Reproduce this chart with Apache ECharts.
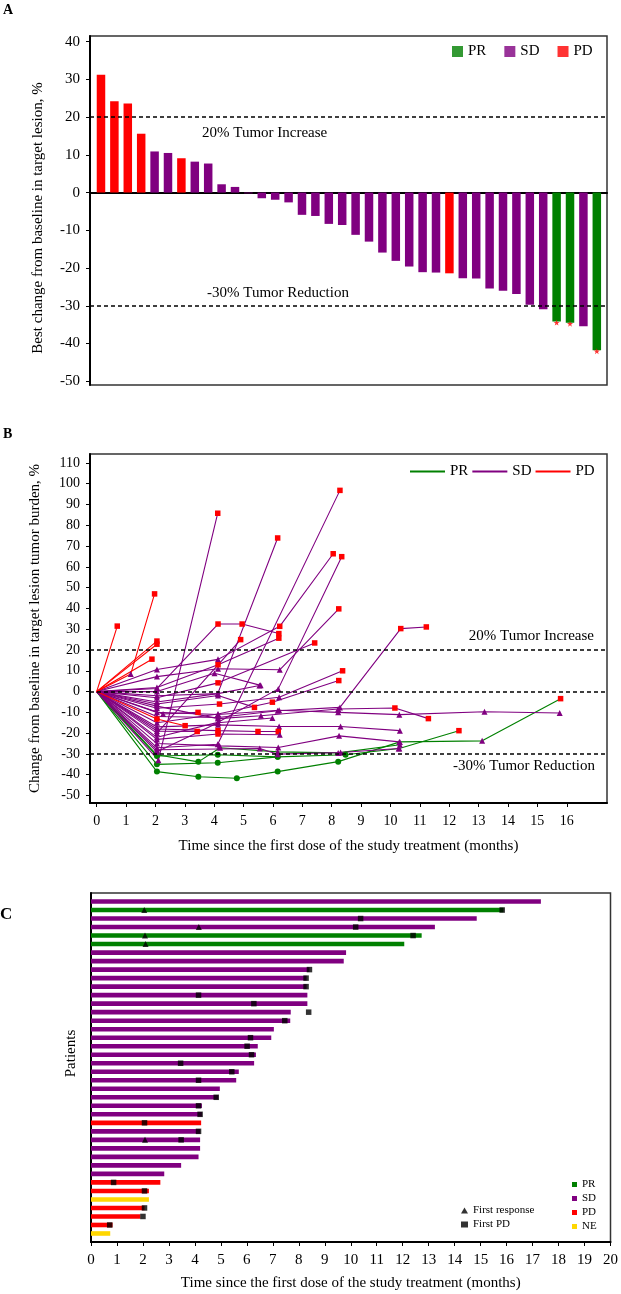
<!DOCTYPE html>
<html>
<head>
<meta charset="utf-8">
<script src="https://cdn.jsdelivr.net/npm/echarts@6/dist/echarts.min.js"></script>
<style>
  html, body { margin: 0; background: #fff; }
  #chart { width: 621px; height: 1294px; }
</style>
</head>
<body>
<div id="chart"></div>
<script>
// ---- panel A: best change per patient (waterfall)
const aValues = [31.2, 24.2, 23.6, 15.6, 10.9, 10.5, 9.1, 8.2, 7.7, 2.2, 1.5, -0.2, -1.5, -1.9, -2.6,
  -5.9, -6.2, -8.3, -8.6, -11.2, -13.0, -15.9, -18.1, -19.6, -21.1, -21.2, -21.4, -22.7, -22.8,
  -25.4, -26.0, -26.9, -29.7, -30.9, -34.2, -34.5, -35.4, -41.8];
const aStatus = ['PD', 'PD', 'PD', 'PD', 'SD', 'SD', 'PD', 'SD', 'SD', 'SD', 'SD', 'SD', 'SD', 'SD', 'SD',
  'SD', 'SD', 'SD', 'SD', 'SD', 'SD', 'SD', 'SD', 'SD', 'SD', 'SD', 'PD', 'SD', 'SD',
  'SD', 'SD', 'SD', 'SD', 'SD', 'PR', 'PR', 'SD', 'PR'];
const aMarked = [35, 36, 38];          // bars with the red mark at the bottom
const aTicksY = [-50, -40, -30, -20, -10, 0, 10, 20, 30, 40];

// ---- panel B: change over time, [month, change %, mark]  mark: 0 none, 1 triangle, 2 circle, 3 PD
const prPaths = [
  [[0, 0, 0], [2.05, -38.5, 2], [3.46, -41, 2], [4.77, -41.7, 2], [6.16, -38.5, 2], [8.22, -33.7, 2], [10.32, -24.2, 1], [13.12, -23.7, 1], [15.79, -3.4, 3]],
  [[0, 0, 0], [2.05, -35, 2], [4.12, -34.2, 2], [6.16, -31.4, 2], [8.47, -30.4, 2], [10.3, -27.4, 1], [12.33, -18.8, 3]],
  [[0, 0, 0], [2.05, -30.4, 2], [3.46, -33.8, 2], [4.2, -27, 1], [6.16, -29, 1], [8.22, -29.5, 1], [10.32, -25.6, 1]],
  [[0, 0, 0], [2.05, -31, 2], [4.12, -30.4, 2], [6.16, -31.4, 2]]
];
const sdPaths = [
  [[0, 0, 0], [2.1, -33, 1], [4.12, 85.8, 3]],
  [[0, 0, 0], [2.05, -5, 1], [4.12, -1, 1], [6.16, 73.9, 3]],
  [[0, 0, 0], [2.05, -27, 1], [4.12, -25.3, 1], [8.28, 96.8, 3]],
  [[0, 0, 0], [2.05, 10.6, 1], [4.13, 15.5, 1], [6.23, 31.4, 3], [8.05, 66.3, 3]],
  [[0, 0, 0], [2.05, -22, 1], [4.13, -14.8, 1], [6.18, 1.3, 1], [8.34, 64.9, 3]],
  [[0, 0, 0], [2.05, 7.2, 1], [4.13, 11, 1], [6.23, 10.5, 1], [8.24, 39.8, 3]],
  [[0, 0, 0], [2.05, 1.5, 1], [4.13, 32.5, 3], [4.95, 32.5, 3], [6.2, 27.9, 3]],
  [[0, 0, 0], [2.05, -20, 1], [4.9, 25, 3]],
  [[0, 0, 0], [2.05, 2, 1], [4.13, 12.9, 3], [6.2, 25.7, 3]],
  [[0, 0, 0], [2.05, -3, 1], [4.13, 4.2, 3], [7.42, 23.4, 3]],
  [[0, 0, 0], [2.05, -8, 1], [4.18, -6, 3], [6.21, -2.7, 1], [8.37, 10, 3]],
  [[0, 0, 0], [2.05, -15, 1], [4.13, -10.8, 1], [5.98, -5.1, 3], [8.24, 5.3, 3]],
  [[0, 0, 0], [2.05, -12, 1], [4.13, -12.5, 1], [6.16, -9.2, 1], [8.28, -7.6, 1], [10.35, 30.3, 3], [11.22, 31.1, 3]],
  [[0, 0, 0], [2.05, -10, 1], [4.13, -11, 1], [6.21, -9, 1], [8.22, -10, 1], [10.3, -11.1, 1], [13.2, -9.7, 1], [15.76, -10.3, 1]],
  [[0, 0, 0], [2.05, -7, 1], [4.13, -13, 1], [5.59, -11.6, 1], [8.22, -8.4, 1], [10.15, -7.9, 3], [11.29, -13, 3]],
  [[0, 0, 0], [2.05, -17, 1], [4.13, -16, 1], [6.21, -16.8, 1], [8.3, -16.8, 1], [10.32, -18.8, 1]],
  [[0, 0, 0], [2.05, -25, 1], [4.18, -26.1, 1], [6.18, -26.9, 1], [8.25, -21.3, 1], [10.3, -24.2, 1]],
  [[0, 0, 0], [2.26, -10.8, 1], [3.45, -10, 3]],
  [[0, 0, 0], [2.05, -19, 1], [3.42, -19.2, 3]],
  [[0, 0, 0], [2.05, -18, 1], [4.13, -18.8, 3], [5.49, -19.2, 3], [6.18, -19.2, 3]],
  [[0, 0, 0], [2.05, -23, 1], [4.13, -20.4, 3], [6.23, -20.8, 1]],
  [[0, 0, 0], [2.05, 0, 1], [4.01, 8.8, 1], [5.58, 3, 1]],
  [[0, 0, 0], [2.05, -6, 1], [4.13, -1.9, 1], [5.37, -7.6, 3]],
  [[0, 0, 0], [2.05, -28, 1], [5.55, -27.4, 1], [6.16, -30.1, 1], [8.3, -29.3, 1], [10.28, -27.4, 1]],
  [[0, 0, 0], [2.05, -29, 1], [4.13, -15, 1], [5.98, -12.7, 1]],
  [[0, 0, 0], [2.05, -2, 1], [4.13, -1, 1], [5.54, 2.9, 1]]
];
const pdPaths = [
  [[0, 0, 0], [0.7, 31.5, 3]],
  [[0, 0, 0], [1.16, 8.5, 1], [1.97, 47, 3]],
  [[0, 0, 0], [2.05, 24.3, 3]],
  [[0, 0, 0], [2.05, 22.8, 3]],
  [[0, 0, 0], [1.88, 15.6, 3]],
  [[0, 0, 0], [2.05, -13.2, 3], [3.01, -16.4, 3]]
];
const bTicksX = [0, 1, 2, 3, 4, 5, 6, 7, 8, 9, 10, 11, 12, 13, 14, 15, 16];
const bTicksY = [-50, -40, -30, -20, -10, 0, 10, 20, 30, 40, 50, 60, 70, 80, 90, 100, 110];

// ---- panel C: swimmer plot, one row per patient from the top
const cDuration = [17.32, 15.88, 14.85, 13.24, 12.73, 12.06, 9.82, 9.73, 8.41, 8.3,
  8.3, 8.33, 8.33, 7.69, 7.67, 7.04, 6.94, 6.42, 6.35, 6.28,
  5.69, 5.59, 4.96, 4.9, 4.27, 4.27, 4.24, 4.2, 4.2, 4.2,
  4.14, 3.47, 2.82, 2.67, 2.23, 2.23, 2.06, 1.9, 0.83, 0.74];
const cStatus = ['SD', 'PR', 'SD', 'SD', 'PR', 'PR', 'SD', 'SD', 'SD', 'SD',
  'SD', 'SD', 'SD', 'SD', 'SD', 'SD', 'SD', 'SD', 'SD', 'SD',
  'SD', 'SD', 'SD', 'SD', 'SD', 'SD', 'PD', 'SD', 'SD', 'SD',
  'SD', 'SD', 'SD', 'PD', 'PD', 'NE', 'PD', 'PD', 'PD', 'NE'];
const cFirstResponse = [[2.05, 2], [4.15, 4], [2.08, 5], [2.1, 6], [2.08, 29]];
const cFirstPD = [[15.83, 2], [10.38, 3], [10.19, 4], [12.4, 5], [8.41, 9], [8.28, 10], [8.28, 11],
  [4.14, 12], [6.27, 13], [8.38, 14], [7.46, 15], [6.14, 17], [6.01, 18], [6.18, 19], [3.45, 20],
  [5.42, 21], [4.14, 22], [4.82, 24], [4.14, 25], [4.2, 26], [2.06, 27], [4.14, 28], [3.47, 29],
  [0.87, 34], [2.06, 35], [2.06, 37], [2.0, 38], [0.72, 39]];

const colors = { PR: '#008000', SD: '#800080', PD: '#ff0000', NE: '#ffd700' };
const serif = '"Liberation Serif", "Times New Roman", serif';
const strip = name => name.replace(/^[ABC]:/, '');
const frame = { show: true, borderColor: '#333', borderWidth: 1.5 };
const axisStroke = { color: '#000', width: 2 };
const dashed = { type: [4, 3], color: '#000', width: 1.6 };
const star = 'path://M5,0 L6.2,3.8 L10,3.8 L7,6.2 L8.1,10 L5,7.6 L1.9,10 L3,6.2 L0,3.8 L3.8,3.8 Z';

const myChart = echarts.init(document.getElementById('chart'));

const markSymbol = ['none', 'triangle', 'circle', 'rect'];
const markColor = [null, colors.SD, colors.PR, colors.PD];
const markSize = [0, 6, 6, 5.5];
function pathSeries(path, color) {
  return {
    type: 'line', xAxisIndex: 1, yAxisIndex: 1, silent: true,
    lineStyle: { color: color, width: 1.1 },
    itemStyle: { color: color },
    data: path.map(p => ({
      value: [p[0], p[1]],
      symbol: markSymbol[p[2]],
      symbolSize: markSize[p[2]],
      itemStyle: { color: markColor[p[2]] || color }
    }))
  };
}

function renderRow(params, api) {
  const start = api.coord([0, api.value(1)]);
  const end = api.coord([api.value(0), api.value(1)]);
  return {
    type: 'rect',
    shape: { x: start[0], y: start[1] - 2.3, width: end[0] - start[0], height: 4.6 },
    style: { fill: api.visual('color') }
  };
}

const series = [];
// A
series.push({
  name: 'A:bars', type: 'bar', xAxisIndex: 0, yAxisIndex: 0, barWidth: 8.5, silent: true,
  data: aValues.map((v, i) => ({ value: [i + 1, v], itemStyle: { color: colors[aStatus[i]] } })),
  markLine: {
    silent: true, symbol: ['none', 'none'], label: { show: false }, lineStyle: dashed,
    data: [{ yAxis: 20 }, { yAxis: -30 }]
  }
});
series.push({
  name: 'A:marks', type: 'scatter', xAxisIndex: 0, yAxisIndex: 0, symbol: star, symbolSize: 6,
  symbolOffset: [0, 1], itemStyle: { color: colors.PD }, silent: true,
  data: aMarked.map(i => [i, aValues[i - 1]])
});
['PR', 'SD', 'PD'].forEach(s => series.push({
  name: 'A:' + s, type: 'scatter', xAxisIndex: 0, yAxisIndex: 0, data: [], itemStyle: { color: colors[s] }
}));

// B
['PR', 'SD', 'PD'].forEach(s => series.push({
  name: 'B:' + s, type: 'line', xAxisIndex: 1, yAxisIndex: 1, data: [],
  itemStyle: { color: colors[s] }, lineStyle: { color: colors[s] }
}));
series.push({
  name: 'B:ref', type: 'line', xAxisIndex: 1, yAxisIndex: 1, data: [],
  markLine: {
    silent: true, symbol: ['none', 'none'], label: { show: false }, lineStyle: dashed,
    data: [{ yAxis: 20 }, { yAxis: 0 }, { yAxis: -30 }]
  }
});
prPaths.forEach(p => series.push(pathSeries(p, colors.PR)));
sdPaths.forEach(p => series.push(pathSeries(p, colors.SD)));
pdPaths.forEach(p => series.push(pathSeries(p, colors.PD)));

// C
['PR', 'SD', 'PD', 'NE'].forEach(s => series.push({
  name: 'C:' + s, type: 'custom', xAxisIndex: 2, yAxisIndex: 2, renderItem: renderRow,
  itemStyle: { color: colors[s] }, encode: { x: 0, y: 1 }, silent: true,
  data: cDuration.map((d, i) => [d, i + 1]).filter((r, i) => cStatus[i] === s)
}));
series.push({
  name: 'First response', type: 'scatter', xAxisIndex: 2, yAxisIndex: 2, symbol: 'triangle',
  symbolSize: 6, itemStyle: { color: '#000' }, data: cFirstResponse, z: 5
});
series.push({
  name: 'First PD', type: 'scatter', xAxisIndex: 2, yAxisIndex: 2, symbol: 'rect',
  symbolSize: 5.5, itemStyle: { color: '#000' }, data: cFirstPD, z: 5
});

const option = {
  animation: false,
  textStyle: { fontFamily: serif, color: '#000' },
  grid: [
    Object.assign({ left: 90, top: 36, width: 517, height: 349 }, frame),
    Object.assign({ left: 90, top: 454, width: 517, height: 349 }, frame),
    Object.assign({ left: 91, top: 893, width: 520, height: 349 }, frame)
  ],
  xAxis: [
    {
      gridIndex: 0, type: 'value', min: 0.18, max: 38.76,
      axisLine: { onZero: true, lineStyle: axisStroke },
      axisTick: { show: false }, axisLabel: { show: false }, splitLine: { show: false }
    },
    {
      gridIndex: 1, type: 'value', min: -0.228, max: 17.37,
      axisLine: { onZero: false, lineStyle: axisStroke },
      axisTick: { length: 4, lineStyle: { color: '#000' }, customValues: bTicksX },
      axisLabel: { customValues: bTicksX, fontSize: 14, margin: 11, color: '#000', fontFamily: serif },
      splitLine: { show: false },
      name: 'Time since the first dose of the study treatment (months)',
      nameLocation: 'middle', nameGap: 36,
      nameTextStyle: { fontSize: 15, fontFamily: serif, color: '#000' }
    },
    {
      gridIndex: 2, type: 'value', min: 0, max: 20, interval: 1,
      axisLine: { onZero: false, lineStyle: axisStroke },
      axisTick: { length: 4, lineStyle: { color: '#000' } },
      axisLabel: { fontSize: 15, margin: 11, color: '#000', fontFamily: serif },
      splitLine: { show: false },
      name: 'Time since the first dose of the study treatment (months)',
      nameLocation: 'middle', nameGap: 34,
      nameTextStyle: { fontSize: 15, fontFamily: serif, color: '#000' }
    }
  ],
  yAxis: [
    {
      gridIndex: 0, type: 'value', min: -51, max: 41.5,
      axisLine: { onZero: false, lineStyle: axisStroke },
      axisTick: { length: 4, lineStyle: { color: '#000' }, customValues: aTicksY },
      axisLabel: { customValues: aTicksY, fontSize: 15, margin: 10, color: '#000', fontFamily: serif },
      splitLine: { show: false },
      name: 'Best change from baseline in target lesion, %',
      nameLocation: 'middle', nameGap: 44,
      nameTextStyle: { fontSize: 15, fontFamily: serif, color: '#000', padding: [0, 15, 0, 0] }
    },
    {
      gridIndex: 1, type: 'value', min: -53.6, max: 114.3,
      axisLine: { onZero: false, lineStyle: axisStroke },
      axisTick: { length: 4, lineStyle: { color: '#000' }, customValues: bTicksY },
      axisLabel: { customValues: bTicksY, fontSize: 14, margin: 10, color: '#000', fontFamily: serif },
      splitLine: { show: false },
      name: 'Change from baseline in target lesion tumor burden, %',
      nameLocation: 'middle', nameGap: 47,
      nameTextStyle: { fontSize: 15, fontFamily: serif, color: '#000' }
    },
    {
      gridIndex: 2, type: 'value', min: 0, max: 41, inverse: true,
      axisLine: { show: true, onZero: false, lineStyle: axisStroke },
      axisTick: { show: false }, axisLabel: { show: false }, splitLine: { show: false },
      name: 'Patients', nameLocation: 'middle', nameGap: 12,
      nameTextStyle: { fontSize: 15, fontFamily: serif, color: '#000', padding: [0, 0, 0, 28] }
    }
  ],
  legend: [
    {
      data: ['A:PR', 'A:SD', 'A:PD'], formatter: strip, left: 452, top: 44, padding: 0,
      icon: 'rect', itemWidth: 11, itemHeight: 11, itemGap: 18, selectedMode: false,
      textStyle: { fontSize: 15, fontFamily: serif, color: '#000' }
    },
    {
      data: ['B:PR', 'B:SD', 'B:PD'], formatter: strip, left: 410, top: 464, padding: 0,
      icon: 'rect', itemWidth: 35, itemHeight: 2, itemGap: 4, selectedMode: false,
      textStyle: { fontSize: 15, fontFamily: serif, color: '#000' }
    },
    {
      data: ['C:PR', 'C:SD', 'C:PD', 'C:NE'], formatter: strip, orient: 'vertical',
      left: 572, top: 1179, padding: 0, icon: 'rect', itemWidth: 5, itemHeight: 5, itemGap: 3,
      selectedMode: false, textStyle: { fontSize: 11, fontFamily: serif, color: '#000' }
    },
    {
      data: [{ name: 'First response', icon: 'triangle' }, { name: 'First PD', icon: 'rect' }],
      orient: 'vertical', left: 461, top: 1205, padding: 0, itemWidth: 7, itemHeight: 6, itemGap: 3,
      selectedMode: false, textStyle: { fontSize: 11, fontFamily: serif, color: '#000' }
    }
  ],
  graphic: [
    { type: 'text', x: 3, y: 3, style: { text: 'A', fontSize: 14, fontWeight: 'bold', fontFamily: serif, fill: '#000' } },
    { type: 'text', x: 3, y: 427, style: { text: 'B', fontSize: 14, fontWeight: 'bold', fontFamily: serif, fill: '#000' } },
    { type: 'text', x: 0, y: 906, style: { text: 'C', fontSize: 17, fontWeight: 'bold', fontFamily: serif, fill: '#000' } },
    { type: 'text', x: 202, y: 133, style: { text: '20% Tumor Increase', fontSize: 15, fontFamily: serif, fill: '#000', verticalAlign: 'middle' } },
    { type: 'text', x: 207, y: 293, style: { text: '-30% Tumor Reduction', fontSize: 15, fontFamily: serif, fill: '#000', verticalAlign: 'middle' } },
    { type: 'text', x: 594, y: 636, style: { text: '20% Tumor Increase', fontSize: 15, fontFamily: serif, fill: '#000', align: 'right', verticalAlign: 'middle' } },
    { type: 'text', x: 595, y: 766, style: { text: '-30% Tumor Reduction', fontSize: 15, fontFamily: serif, fill: '#000', align: 'right', verticalAlign: 'middle' } }
  ],
  series: series
};

myChart.setOption(option);
</script>
</body>
</html>
